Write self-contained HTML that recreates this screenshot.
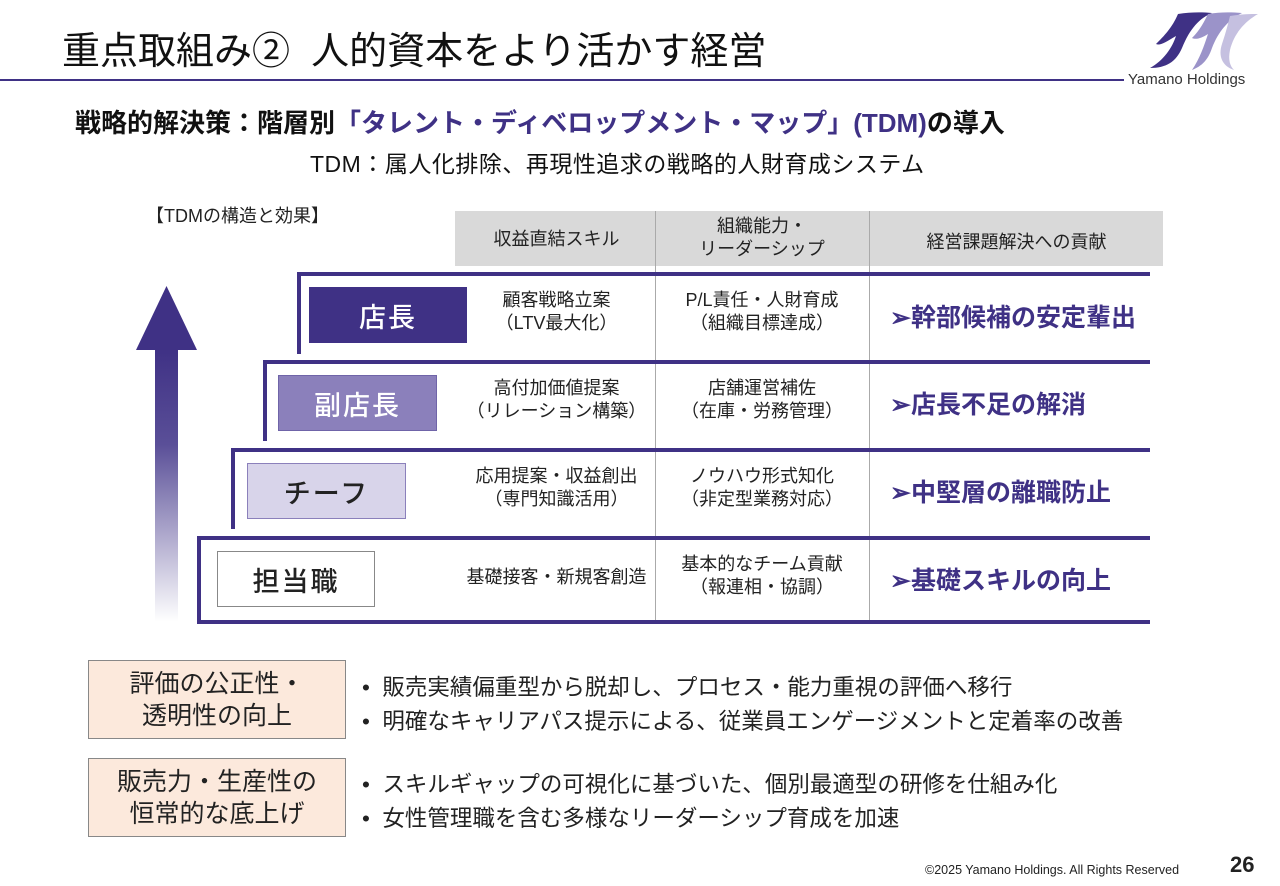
<!DOCTYPE html>
<html><head><meta charset="utf-8"><style>
*{margin:0;padding:0;box-sizing:border-box}
body{width:1280px;height:886px;background:#fff;position:relative;overflow:hidden;font-family:"Liberation Sans","Noto Sans CJK JP",sans-serif;color:#222}
.a{position:absolute;white-space:nowrap}
.hl{position:absolute;height:4px;background:#3f3185}
.vl{position:absolute;width:4px;background:#3f3185}
.gl{position:absolute;width:1px;background:#aaa}
.box{position:absolute;display:flex;align-items:center;justify-content:center;font-size:27px;letter-spacing:2px;font-weight:500}
.c1,.c2{position:absolute;text-align:center;font-size:18px;line-height:23px;white-space:nowrap}
.c1{left:458px;width:197px}
.c2{left:656px;width:212px}
.c3{position:absolute;left:890px;font-size:25px;font-weight:bold;color:#3f3185;white-space:nowrap}
.pb{position:absolute;left:88px;width:258px;height:79px;background:#fce9dc;border:1px solid #888;font-size:25px;line-height:32px;text-align:center;display:flex;align-items:center;justify-content:center}
.bl{position:absolute;left:362px;font-size:22.5px;white-space:nowrap}
</style></head><body>
<div class="a" style="left:62px;top:20px;font-size:38px;color:#111">重点取組み②&nbsp;&nbsp;人的資本をより活かす経営</div>
<div style="position:absolute;left:0;top:79px;width:1124px;height:2px;background:#3f3185"></div>
<svg style="position:absolute;left:1130px;top:8px" width="130" height="62" viewBox="0 0 130 62">
<path d="M48 6 C60 4 72 4 82 5 C70 10 60 20 52 40 C46 54 36 60 20 60 C34 52 42 40 46 28 C36 34 30 38 26 36 C34 28 42 20 48 6Z" fill="#3f3185"/>
<path d="M78 6 C90 4 100 4 112 5 C98 12 88 24 82 40 C78 52 72 58 62 62 C70 50 74 38 78 26 C72 30 66 32 62 30 C70 22 74 14 78 6Z" fill="#9b93c9"/>
<path d="M100 8 C112 6 120 6 128 6 C114 14 104 26 100 42 C98 52 100 58 104 62 C92 58 88 48 92 36 C96 24 98 16 100 8Z" fill="#c5c0e0"/>
</svg>
<div class="a" style="left:1128px;top:71px;font-size:15px;color:#333">Yamano Holdings</div>

<div class="a" style="left:75px;top:103px;font-size:26px;font-weight:bold;color:#111;letter-spacing:0px">戦略的解決策：階層別<span style="color:#3f3185">「タレント・ディベロップメント・マップ」(TDM)</span>の導入</div>
<div class="a" style="left:310px;top:145px;font-size:23px;color:#111;letter-spacing:0.5px">TDM：属人化排除、再現性追求の戦略的人財育成システム</div>
<div class="a" style="left:146px;top:202px;font-size:18px">【TDMの構造と効果】</div>

<div style="position:absolute;left:455px;top:211px;width:708px;height:55px;background:#d9d9d9"></div>
<div class="gl" style="left:655px;top:211px;height:411px"></div>
<div class="gl" style="left:869px;top:211px;height:411px"></div>
<div class="c1" style="top:228px">収益直結スキル</div>
<div class="c2" style="top:215px">組織能力・<br>リーダーシップ</div>
<div class="a" style="left:870px;width:293px;text-align:center;top:228px;font-size:18px">経営課題解決への貢献</div>

<svg style="position:absolute;left:136px;top:286px" width="62" height="336">
<defs><linearGradient id="g" x1="0" y1="0" x2="0" y2="1"><stop offset="0" stop-color="#3f3185"/><stop offset="0.35" stop-color="#5a4f98"/><stop offset="1" stop-color="#fff"/></linearGradient></defs>
<polygon points="30.5,0 61,64 0,64" fill="#3f3185"/>
<rect x="19" y="63" width="23" height="273" fill="url(#g)"/>
</svg>

<div class="hl" style="left:297px;top:272px;width:853px"></div>
<div class="vl" style="left:297px;top:272px;height:82px"></div>
<div class="hl" style="left:263px;top:360px;width:887px"></div>
<div class="vl" style="left:263px;top:360px;height:81px"></div>
<div class="hl" style="left:231px;top:448px;width:919px"></div>
<div class="vl" style="left:231px;top:448px;height:81px"></div>
<div class="hl" style="left:197px;top:536px;width:953px"></div>
<div class="vl" style="left:197px;top:536px;height:86px"></div>
<div class="hl" style="left:197px;top:620px;width:953px"></div>

<div class="box" style="left:309px;top:287px;width:158px;height:56px;background:#3f3185;color:#fff">店長</div>
<div class="box" style="left:278px;top:375px;width:159px;height:56px;background:#8b80bb;color:#fff;border:1px solid #6f64a8">副店長</div>
<div class="box" style="left:247px;top:463px;width:159px;height:56px;background:#d8d4ea;color:#222;border:1px solid #8b80bb">チーフ</div>
<div class="box" style="left:217px;top:551px;width:158px;height:56px;background:#fff;color:#222;border:1px solid #888">担当職</div>

<div class="c1" style="top:289px">顧客戦略立案<br>（LTV最大化）</div>
<div class="c2" style="top:289px">P/L責任・人財育成<br>（組織目標達成）</div>
<div class="c3" style="top:298px">➢幹部候補の安定輩出</div>
<div class="c1" style="top:377px">高付加価値提案<br>（リレーション構築）</div>
<div class="c2" style="top:377px">店舗運営補佐<br>（在庫・労務管理）</div>
<div class="c3" style="top:385px">➢店長不足の解消</div>
<div class="c1" style="top:465px">応用提案・収益創出<br>（専門知識活用）</div>
<div class="c2" style="top:465px">ノウハウ形式知化<br>（非定型業務対応）</div>
<div class="c3" style="top:473px">➢中堅層の離職防止</div>
<div class="c1" style="top:566px">基礎接客・新規客創造</div>
<div class="c2" style="top:553px">基本的なチーム貢献<br>（報連相・協調）</div>
<div class="c3" style="top:561px">➢基礎スキルの向上</div>

<div class="pb" style="top:660px">評価の公正性・<br>透明性の向上</div>
<div class="pb" style="top:758px">販売力・生産性の<br>恒常的な底上げ</div>
<div class="bl" style="top:670px">•&nbsp;&nbsp;販売実績偏重型から脱却し、プロセス・能力重視の評価へ移行</div>
<div class="bl" style="top:704px">•&nbsp;&nbsp;明確なキャリアパス提示による、従業員エンゲージメントと定着率の改善</div>
<div class="bl" style="top:767px">•&nbsp;&nbsp;スキルギャップの可視化に基づいた、個別最適型の研修を仕組み化</div>
<div class="bl" style="top:801px">•&nbsp;&nbsp;女性管理職を含む多様なリーダーシップ育成を加速</div>

<div class="a" style="left:925px;top:863px;font-size:12.5px;color:#222">©2025 Yamano Holdings. All Rights Reserved</div>
<div class="a" style="left:1230px;top:852px;font-size:22px;font-weight:bold;color:#222">26</div>
</body></html>
